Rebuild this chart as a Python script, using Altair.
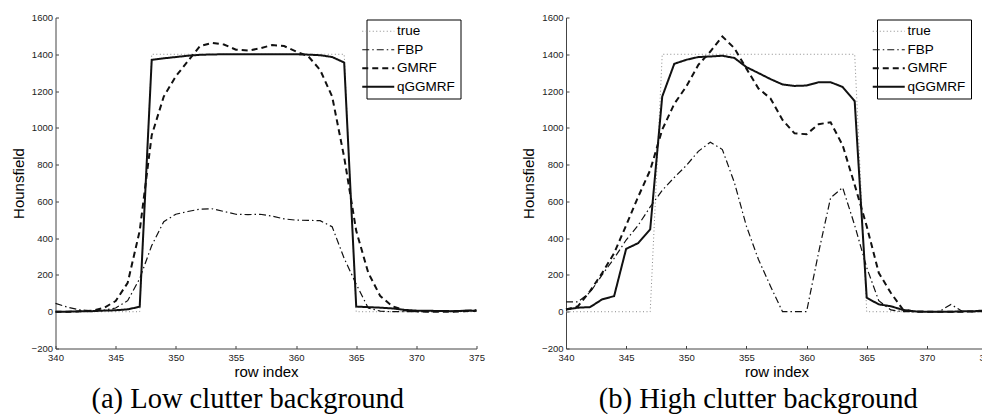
import altair as alt
import pandas as pd

row_index = list(range(340, 376))
methods = ["true", "FBP", "GMRF", "qGGMRF"]

# ---------- panel (a): low clutter background ----------
a_true = [0, 0, 0, 0, 0, 0, 0, 0,
          1400, 1400, 1400, 1400, 1400, 1400, 1400, 1400, 1400, 1400, 1400, 1400, 1400, 1400, 1400, 1400, 1400,
          0, 0, 0, 0, 0, 0, 0, 0, 0, 0, 0]
a_fbp = [45, 25, 10, 5, 8, 20, 60, 180, 360, 490, 530, 545, 558, 560, 545, 530, 528, 530, 520, 505,
         498, 497, 495, 462, 290, 150, 20, 3, 0, 0, 0, 0, 2, 3, 8, 10]
a_gmrf = [0, 0, 2, 5, 20, 58, 157, 440, 960, 1170, 1280, 1362, 1444, 1462, 1453, 1425, 1420, 1432, 1450, 1445,
          1415, 1390, 1315, 1170, 840, 440, 212, 85, 30, 8, 2, 0, 0, 0, 3, 5]
a_qgg = [0, 0, 2, 3, 6, 8, 13, 27, 1370, 1378, 1385, 1392, 1397, 1399, 1400, 1400, 1400, 1400, 1400, 1400,
         1400, 1398, 1395, 1385, 1355, 28, 25, 22, 18, 10, 6, 5, 4, 3, 5, 6]

# ---------- panel (b): high clutter background ----------
b_true = [0, 0, 0, 0, 0, 0, 0, 0,
          1400, 1400, 1400, 1400, 1400, 1400, 1400, 1400, 1400, 1400, 1400, 1400, 1400, 1400, 1400, 1400, 1400,
          0, 0, 0, 0, 0, 0, 0, 0, 0, 0, 0]
b_fbp = [54, 54, 105, 200, 290, 390, 470, 570, 660, 730, 795, 872, 922, 882, 702, 465, 284, 139, 0, 0,
         0, 322, 620, 675, 470, 240, 60, 10, 0, 0, 0, 0, 40, 0, 0, 5]
b_gmrf = [12, 30, 112, 210, 318, 470, 625, 770, 990, 1130, 1225, 1342, 1415, 1497, 1433, 1322, 1214, 1160, 1043, 970,
          965, 1020, 1030, 905, 690, 465, 212, 103, 13, 0, 0, 0, 0, 0, 2, 3]
b_qgg = [12, 22, 25, 67, 85, 342, 373, 448, 1170, 1348, 1370, 1385, 1388, 1392, 1380, 1330, 1298, 1265, 1236, 1228,
         1230, 1248, 1248, 1222, 1145, 76, 40, 30, 10, 2, 0, 0, 0, 2, 3, 8]

x_ticks = [340, 345, 350, 355, 360, 365, 370, 375]
y_ticks = [-200, 0, 200, 400, 600, 800, 1000, 1200, 1400, 1600]

line_colors = ["#8a8a8a", "#111111", "#111111", "#111111"]
line_dashes = [[1, 2.5], [7, 3, 1.5, 3], [6, 4], [1, 0]]
line_widths = [1.0, 1.2, 2.0, 2.0]


def make_df(series):
    rows = []
    for m, vals in zip(methods, series):
        for x, v in zip(row_index, vals):
            rows.append({"row": x, "value": v, "method": m})
    return pd.DataFrame(rows)


def panel(df, caption):
    legend = alt.Legend(
        orient="none", legendX=311, legendY=2, strokeColor="black", fillColor="white",
        padding=5, labelFont="Liberation Sans", labelFontSize=13.5, labelColor="black",
        symbolType="M-3.2,0H3.2", symbolSize=100, labelOffset=12, rowPadding=3.5,
        cornerRadius=0,
    )
    return alt.Chart(df).mark_line().encode(
        x=alt.X("row:Q", scale=alt.Scale(domain=[340, 375], nice=False, zero=False),
                axis=alt.Axis(values=x_ticks, title="row index", grid=False, format="d",
                              labelFlush=False,
                              tickSize=alt.ExprRef(expr="-3"), labelPadding=7, titlePadding=2)),
        y=alt.Y("value:Q", scale=alt.Scale(domain=[-200, 1600], nice=False, zero=False),
                axis=alt.Axis(values=y_ticks, title="Hounsfield", grid=False, format="d",
                              labelFlush=False,
                              tickSize=alt.ExprRef(expr="-3"), labelPadding=6, titlePadding=5)),
        color=alt.Color("method:N", scale=alt.Scale(domain=methods, range=line_colors),
                        legend=legend, title=None),
        strokeDash=alt.StrokeDash("method:N", scale=alt.Scale(domain=methods, range=line_dashes),
                                  legend=legend, title=None),
        strokeWidth=alt.StrokeWidth("method:N", scale=alt.Scale(type="ordinal", domain=methods, range=line_widths),
                                    legend=legend, title=None),
    ).properties(
        width=421, height=331,
        title=alt.TitleParams(caption, orient="bottom", frame="bounds", anchor="middle",
                              font="Liberation Serif", fontSize=28.5, fontWeight="normal",
                              color="black", offset=6),
    )


left = panel(make_df([a_true, a_fbp, a_gmrf, a_qgg]), "(a) Low clutter background")
right = panel(make_df([b_true, b_fbp, b_gmrf, b_qgg]), "(b) High clutter background")

chart = alt.hconcat(left, right, spacing=36.5).resolve_scale(
    color="independent", strokeDash="independent", strokeWidth="independent"
).resolve_legend(
    color="independent", strokeDash="independent", strokeWidth="independent"
).properties(
    padding={"left": 2.5, "top": 4.5, "right": -13.5, "bottom": 0}
).configure_view(strokeWidth=0).configure_axis(
    labelFont="Liberation Sans", labelFontSize=9.5, labelColor="#222222",
    titleFont="Liberation Sans", titleFontSize=15, titleFontWeight="normal", titleColor="black",
    domainColor="#444444", tickColor="#444444", domainWidth=1, tickWidth=1,
)

chart.save("out.html", embed_options={"renderer": "svg", "actions": False})
